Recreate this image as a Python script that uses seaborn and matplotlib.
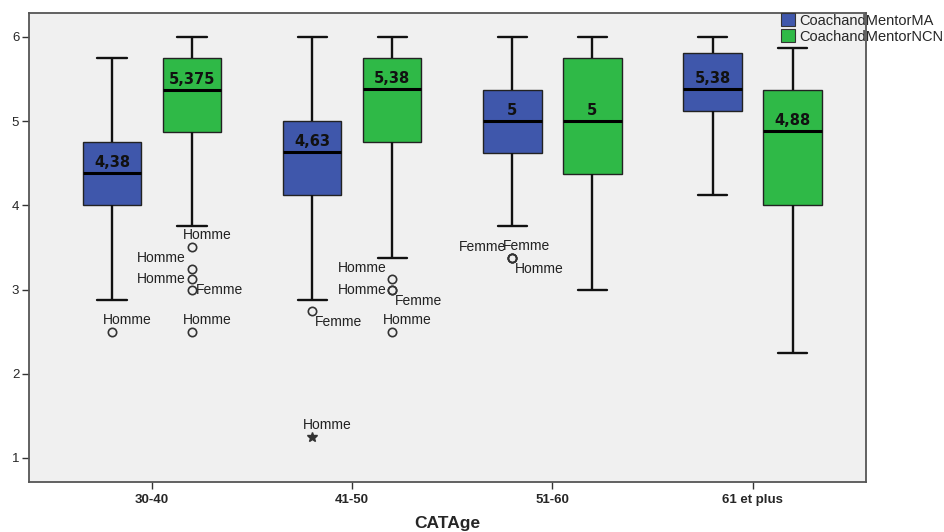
import pandas as pd
import seaborn as sns
import matplotlib.pyplot as plt
from matplotlib.patches import Patch

# Boxplot of the two coaching scores by age class (SPSS style chart)

categories = ['30-40', '41-50', '51-60', '61 et plus']
series = ['CoachandMentorMA', 'CoachandMentorNCN']

# box summaries, one entry per age class
ma_whislo = [2.88, 2.875, 3.75, 4.125]
ma_q1 = [4.0, 4.125, 4.625, 5.125]
ma_med = [4.38, 4.63, 5.0, 5.38]
ma_q3 = [4.75, 5.0, 5.375, 5.8125]
ma_whishi = [5.75, 6.0, 6.0, 6.0]
ma_outliers = [[2.5], [2.75], [3.375, 3.375, 3.375], []]
ma_outlier_cases = [['Homme'], ['Femme'], ['Femme', 'Femme', 'Homme'], []]
ma_extremes = [[], [1.25], [], []]
ma_extreme_cases = [[], ['Homme'], [], []]
ma_median_text = ['4,38', '4,63', '5', '5,38']

ncn_whislo = [3.75, 3.375, 3.0, 2.25]
ncn_q1 = [4.875, 4.75, 4.375, 4.0]
ncn_med = [5.375, 5.38, 5.0, 4.88]
ncn_q3 = [5.75, 5.75, 5.75, 5.375]
ncn_whishi = [6.0, 6.0, 6.0, 5.875]
ncn_outliers = [[3.5, 3.25, 3.125, 3.0, 2.5], [3.125, 3.0, 3.0, 2.5], [], []]
ncn_outlier_cases = [['Homme', 'Homme', 'Homme', 'Femme', 'Homme'],
                     ['Homme', 'Homme', 'Femme', 'Homme'], [], []]
ncn_median_text = ['5,375', '5,38', '5', '4,88']

# where each case label sits around its point (pixels, ha)
place = {
    'above': (-9, 12, 'left'),
    'leftup': (-6, 11, 'right'),
    'left': (-6, 0, 'right'),
    'right': (4, 0, 'left'),
    'below': (3, -11, 'left'),
}
ma_outlier_place = [['above'], ['below'], ['leftup', 'above', 'below'], []]
ma_extreme_place = [[], ['above'], [], []]
ncn_outlier_place = [['above', 'leftup', 'left', 'right', 'above'],
                     ['leftup', 'left', 'below', 'above'], [], []]

blue = '#3F57AB'
green = '#2FB947'


def sample(whislo, q1, med, q3, whishi, outliers):
    # stand-in sample whose quartiles / whiskers / outliers are the values
    return list(outliers) + [whislo] + [q1] * 20 + [med] * 20 + [q3] * 20 + [whishi]


rows = []
for i, cat in enumerate(categories):
    for v in sample(ma_whislo[i], ma_q1[i], ma_med[i], ma_q3[i], ma_whishi[i], ma_outliers[i]):
        rows.append((cat, series[0], v))
    for v in sample(ncn_whislo[i], ncn_q1[i], ncn_med[i], ncn_q3[i], ncn_whishi[i], ncn_outliers[i]):
        rows.append((cat, series[1], v))
df = pd.DataFrame(rows, columns=['CATAge', 'serie', 'value'])

sns.set_theme(style='white')
plt.rcParams['font.family'] = ['Liberation Sans', 'DejaVu Sans']

fig = plt.figure(figsize=(9.44, 5.32), dpi=100)
ax = fig.add_axes([0.0307, 0.094, 0.8863, 0.8816])
ax.set_facecolor('#F0F0F0')

sns.boxplot(data=df, x='CATAge', y='value', hue='serie', order=categories, hue_order=series,
            palette=[blue, green], saturation=1, width=0.8, gap=0.27,
            linecolor='#222222', linewidth=1.0,
            whiskerprops={'linewidth': 1.7, 'color': '#111111'},
            capprops={'linewidth': 1.7, 'color': '#111111'},
            medianprops={'linewidth': 2.2, 'color': '#000000'},
            flierprops={'marker': 'o', 'markersize': 6, 'markerfacecolor': 'none',
                        'markeredgecolor': '#333333', 'markeredgewidth': 1.2},
            legend=False, ax=ax)

dodge = 0.2
for i in range(len(categories)):
    for off, meds, texts in ((-dodge, ma_med, ma_median_text), (dodge, ncn_med, ncn_median_text)):
        ax.annotate(texts[i], (i + off, meds[i]), xytext=(0, 3), textcoords='offset pixels',
                    ha='center', va='bottom', fontsize=10.5, fontweight='bold',
                    family='DejaVu Sans', color='#111111')

    # extreme cases get a star
    for v in ma_extremes[i]:
        ax.plot(i - dodge, v, marker='*', markersize=7, color='#333333', linestyle='none')

    groups = (
        (-dodge, ma_outliers[i], ma_outlier_cases[i], ma_outlier_place[i]),
        (-dodge, ma_extremes[i], ma_extreme_cases[i], ma_extreme_place[i]),
        (dodge, ncn_outliers[i], ncn_outlier_cases[i], ncn_outlier_place[i]),
    )
    for off, vals, cases, where in groups:
        for v, case, p in zip(vals, cases, where):
            dx, dy, ha = place[p]
            ax.annotate(case, (i + off, v), xytext=(dx, dy), textcoords='offset pixels',
                        ha=ha, va='center', fontsize=10, color='#222222')

ax.set_xlim(-0.615, 3.565)
ax.set_ylim(0.715, 6.285)
ax.set_yticks([1, 2, 3, 4, 5, 6])
ax.set_ylabel('')
ax.set_xlabel('CATAge', fontsize=12.5, fontweight='bold', labelpad=7)
ax.tick_params(axis='y', direction='out', length=5, width=1, color='#333333',
               labelsize=9.5, pad=2, left=True)
ax.tick_params(axis='x', direction='out', length=5, width=1, color='#333333',
               labelsize=9.5, pad=4, bottom=True)
for lab in ax.get_xticklabels():
    lab.set_fontweight('bold')
for s in ax.spines.values():
    s.set_color('#555555')
    s.set_linewidth(1.3)

handles = [Patch(facecolor=blue, edgecolor='#333333', linewidth=0.8),
           Patch(facecolor=green, edgecolor='#333333', linewidth=0.8)]
fig.legend(handles, series, loc='upper left', bbox_to_anchor=(0.827, 0.975), frameon=False,
           fontsize=10.5, handlelength=1.0, handleheight=1.0, handletextpad=0.3,
           labelspacing=0.1, borderpad=0, borderaxespad=0)

plt.savefig('out.png', dpi=100)
plt.close()
